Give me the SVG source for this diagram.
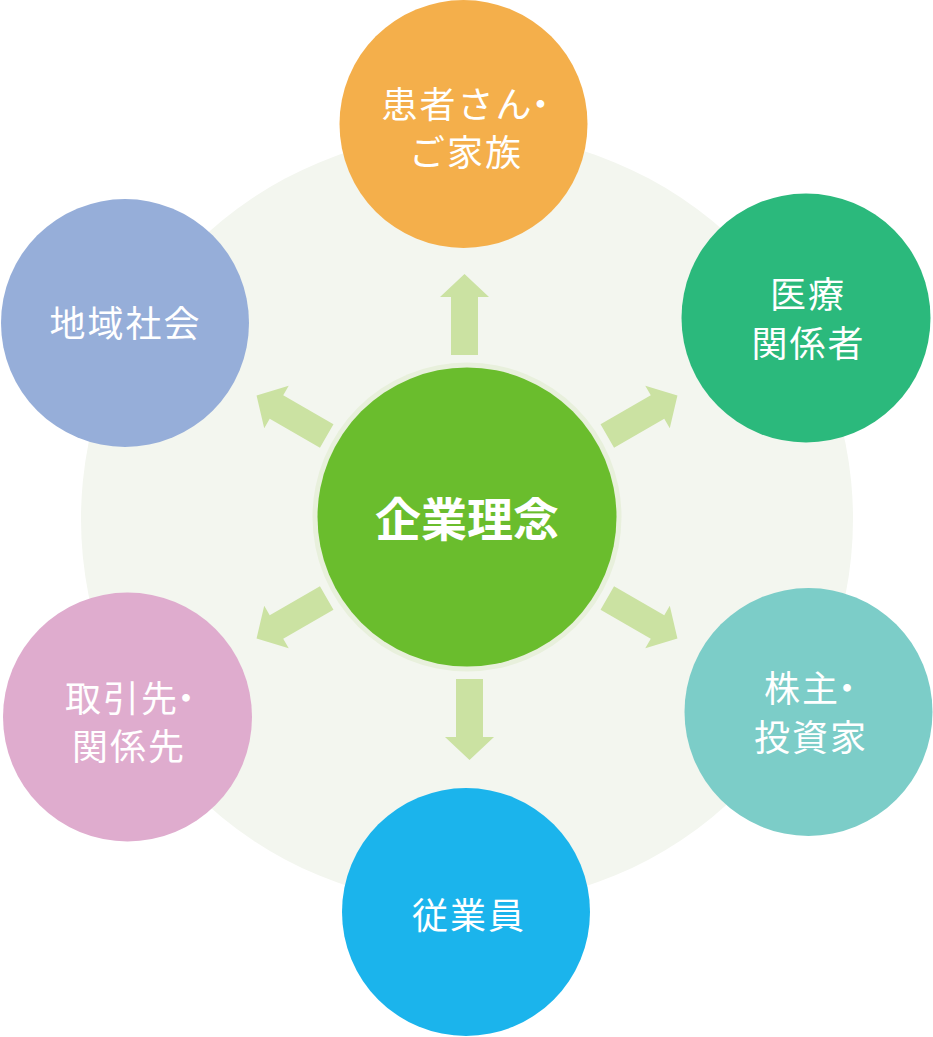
<svg xmlns="http://www.w3.org/2000/svg" width="933" height="1037" viewBox="0 0 933 1037">
<defs>
<style>
.lbl{font-family:"Noto Sans CJK JP","Noto Sans CJK SC",sans-serif;font-size:36px;fill:#ffffff;text-anchor:middle;dominant-baseline:central;letter-spacing:2px}
.main{font-family:"Noto Sans CJK JP","Noto Sans CJK SC",sans-serif;font-size:46px;font-weight:bold;fill:#ffffff;text-anchor:middle;dominant-baseline:central}
.arr{fill:#cbe2a2}
</style>
<path id="arrow" d="M453.5,355 L453.5,297 L442.5,297 L467,274 L491.5,297 L480.5,297 L480.5,355 Z"/>
</defs>
<rect width="933" height="1037" fill="#ffffff"/>
<circle id="background" cx="467" cy="519" r="386" fill="#f3f6ef"/>
<g id="connectors" class="arr">
<use href="#arrow" transform="translate(-2.5,0)"/>
<use href="#arrow" transform="rotate(60 467 517)"/>
<use href="#arrow" transform="rotate(120 467 517)"/>
<use href="#arrow" transform="translate(2.5,0) rotate(180 467 517)"/>
<use href="#arrow" transform="rotate(240 467 517)"/>
<use href="#arrow" transform="rotate(300 467 517)"/>
</g>
<g id="center">
<circle cx="467" cy="517" r="154.5" fill="#e8f0dc"/>
<circle cx="467" cy="517" r="149.5" fill="#6abd2d"/>
<text class="main" x="467" y="516">企業理念</text>
</g>
<g id="node-patients">
<circle cx="463.5" cy="124" r="124" fill="#f4af4b"/>
<text class="lbl" x="471" y="102">患者さん<tspan dx="-11">・</tspan></text>
<text class="lbl" x="466" y="150">ご家族</text>
</g>
<g id="node-medical">
<circle cx="806" cy="318" r="124.5" fill="#2bb97c"/>
<text class="lbl" x="808" y="292">医療</text>
<text class="lbl" x="808.5" y="341">関係者</text>
</g>
<g id="node-shareholders">
<circle cx="808.5" cy="712" r="124" fill="#7ccdc8"/>
<text class="lbl" x="815.5" y="686">株主<tspan dx="-11">・</tspan></text>
<text class="lbl" x="811" y="735">投資家</text>
</g>
<g id="node-employees">
<circle cx="466" cy="912" r="124" fill="#1bb4ec"/>
<text class="lbl" x="469" y="913">従業員</text>
</g>
<g id="node-partners">
<circle cx="127.5" cy="717" r="124.5" fill="#dfacce"/>
<text class="lbl" x="135.5" y="696">取引先<tspan dx="-11">・</tspan></text>
<text class="lbl" x="129" y="744">関係先</text>
</g>
<g id="node-community">
<circle cx="125" cy="323" r="124" fill="#96aed9"/>
<text class="lbl" x="125.5" y="321">地域社会</text>
</g>
</svg>
